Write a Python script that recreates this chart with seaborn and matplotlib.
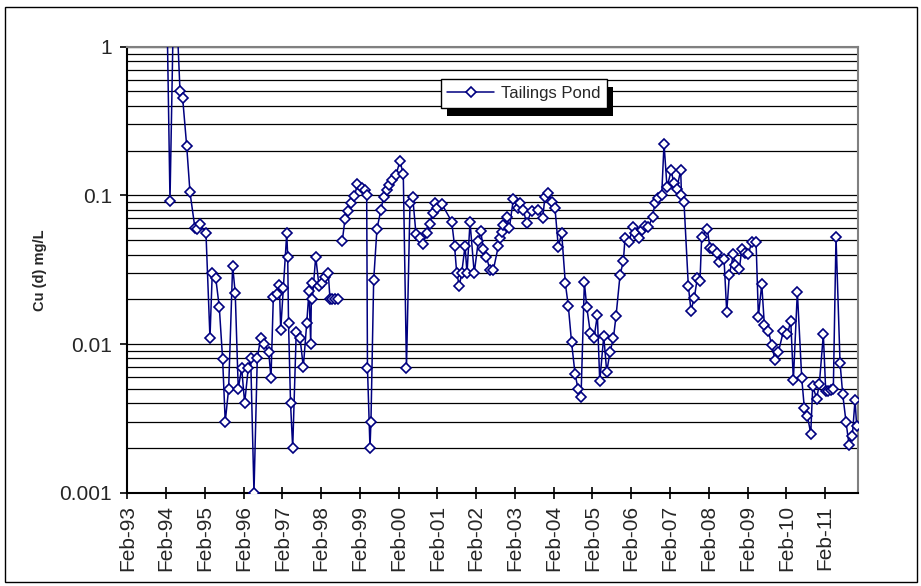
import numpy as np
import pandas as pd
import matplotlib
matplotlib.use("Agg")
import matplotlib.pyplot as plt
import matplotlib.dates as mdates
from matplotlib.patches import Rectangle
from matplotlib.lines import Line2D
from matplotlib.ticker import FixedLocator, FixedFormatter, NullFormatter, LogLocator
import seaborn as sns

# ---- data (decimal year, dissolved Cu mg/L); NaN marks a break in the line ----
years = [
    1994.10, 1994.187, 1994.30, 1994.445, 1994.514, 1994.618, 1994.703, 1994.832, 1994.876, 1994.961,
    1995.116, 1995.219, 1995.278, 1995.366, 1995.459, 1995.546, 1995.613, 1995.701, 1995.804, 1995.871,
    1995.949, 1996.037, 1996.114, 1996.207, 1996.269, 1996.354, 1996.439, 1996.527, 1996.612, 1996.733,
    1996.792, 1996.852, 1996.940, 1997.007, 1997.043, 1997.110, 1997.198, 1997.223, 1997.244, 1997.296,
    1997.352, 1997.443, 1997.541, 1997.626, 1997.714, 1997.773, 1997.817, 1997.838, 1997.858, 1997.946,
    1998.031, 1998.116, 1998.186, 1998.271, 1998.315, 1998.374, 1998.444, 1998.529, 1998.580,
    1998.632, 1998.702, 1998.779, 1998.864, 1998.947, 1999.024, 1999.140, 1999.218, 1999.262, 1999.282,
    1999.347, 1999.372, 1999.442, 1999.527, 1999.630, 1999.700, 1999.777, 1999.850, 1999.927, 2000.017,
    2000.121, 2000.206, 2000.288, 2000.379, 2000.448, 2000.533, 2000.624, 2000.714, 2000.809, 2000.882,
    2000.959, 2001.024, 2001.083, 2001.204, 2001.454, 2001.527, 2001.583, 2001.651, 2001.712, 2001.798,
    2001.849, 2001.927, 2002.035, 2002.141, 2002.203, 2002.270, 2002.347, 2002.443, 2002.528, 2002.657,
    2002.701, 2002.744, 2002.786, 2002.873, 2002.941, 2003.044, 2003.173, 2003.217, 2003.302, 2003.389,
    2003.518, 2003.689, 2003.802, 2003.862, 2003.947, 2004.034, 2004.120, 2004.205, 2004.292, 2004.386,
    2004.463, 2004.546, 2004.636, 2004.713, 2004.790, 2004.876, 2004.937, 2005.031, 2005.126, 2005.211,
    2005.273, 2005.376, 2005.453, 2005.539, 2005.624, 2005.694, 2005.797, 2005.882, 2005.926, 2006.035,
    2006.124, 2006.184, 2006.280, 2006.364, 2006.442, 2006.527, 2006.635, 2006.700, 2006.777, 2006.872,
    2006.932, 2007.009, 2007.120, 2007.182, 2007.259, 2007.362, 2007.383, 2007.447, 2007.559, 2007.628,
    2007.714, 2007.791, 2007.861, 2007.904, 2008.049, 2008.119, 2008.204, 2008.291, 2008.359, 2008.480,
    2008.549, 2008.617, 2008.720, 2008.764, 2008.874, 2008.936, 2009.022, 2009.107, 2009.194, 2009.305,
    2009.365, 2009.452, 2009.520, 2009.623, 2009.710, 2009.796, 2009.881, 2010.010, 2010.113, 2010.201,
    2010.268, 2010.371, 2010.484, 2010.552, 2010.629, 2010.717, 2010.768, 2010.871, 2010.939, 2011.042,
    2011.104, 2011.171, 2011.233, 2011.300, 2011.369, 2011.473, 2011.542, 2011.627, 2011.705, 2011.790,
    2011.860, 2011.903,
]
cu = [
    2.5, 0.092, 4.0, 0.506, 0.45, 0.215, 0.105, 0.060, 0.059, 0.064,
    0.0556, 0.011, 0.030, 0.028, 0.0178, 0.0079, 0.0030, 0.0050, 0.0337, 0.022,
    0.0050, 0.0069, 0.0040, 0.0069, 0.0081, 0.0010, 0.0080, 0.0110, 0.0100, 0.0089,
    0.0059, 0.0206, 0.0217, 0.025, 0.0125, 0.0237, 0.0556, 0.0387, 0.0139, 0.0040,
    0.0020, 0.0120, 0.0110, 0.0070, 0.0138, 0.0229, 0.0100, 0.0256, 0.0200, 0.0387,
    0.0246, 0.0256, 0.0284, 0.0299, 0.020, 0.020, 0.020, 0.020, np.nan,
    0.0493, 0.0694, 0.0789, 0.0885, 0.0995, 0.119, 0.112, 0.108, 0.100, 0.0069,
    0.0020, 0.0030, 0.0268, 0.0595, 0.0797, 0.098, 0.1087, 0.117, 0.127, 0.137,
    0.170, 0.139, 0.0069, 0.089, 0.098, 0.055, 0.052, 0.047, 0.056, 0.064,
    0.076, 0.089, 0.082, 0.087, 0.0666, 0.0458, 0.030, 0.0246, 0.030, 0.0458,
    0.030, 0.066, 0.030, 0.0493, 0.0577, 0.0436, 0.0387, 0.0315, 0.0315, 0.0454,
    0.0515, 0.0571, 0.0632, 0.0719, 0.060, 0.094, 0.082, 0.0885, 0.0797, 0.0651,
    0.0789, 0.0797, 0.070, 0.098, 0.104, 0.0909, 0.082, 0.045, 0.0556, 0.0256,
    0.018, 0.0103, 0.0063, 0.0050, 0.0044, 0.026, 0.0178, 0.0118, 0.0110, 0.0157,
    0.0056, 0.0113, 0.0065, 0.0089, 0.0109, 0.0155, 0.0292, 0.036, 0.052, 0.0489,
    0.061, 0.0556, 0.052, 0.0585, 0.062, 0.061, 0.0718, 0.0885, 0.0957, 0.100,
    0.223, 0.114, 0.147, 0.121, 0.110, 0.148, 0.100, 0.0907, 0.0247, 0.0168,
    0.0205, 0.0277, 0.0267, 0.0528, 0.0594, 0.0441, 0.0435, 0.0408, 0.0355, 0.0374,
    0.0164, 0.0292, 0.0401, 0.034, 0.032, 0.0434, 0.0408, 0.0401, 0.0489, 0.0489,
    0.0153, 0.0253, 0.0134, 0.0122, 0.0098, 0.0078, 0.0088, 0.0122, 0.0116, 0.0143,
    0.0057, 0.0225, 0.0059, 0.0037, 0.0033, 0.0025, 0.0052, 0.0043, 0.0054, 0.0116,
    0.0048, 0.0048, 0.0049, 0.0050, 0.0528, 0.0075, 0.0046, 0.0030, 0.0021, 0.0024,
    0.0042, 0.0028,
]
tick_years = list(range(1993, 2012))
series_name = "Tailings Pond"
y_label = "Cu (d) mg/L"
y_ticks = [0.001, 0.01, 0.1, 1]
y_tick_labels = ["0.001", "0.01", "0.1", "1"]


def dec_to_date(y):
    yr = int(np.floor(y))
    start = pd.Timestamp(yr, 1, 1)
    end = pd.Timestamp(yr + 1, 1, 1)
    return start + (end - start) * (y - yr)


df = pd.DataFrame({"year": years, "cu": cu})
df["seg"] = df["cu"].isna().cumsum()
df = df.dropna().reset_index(drop=True)
df["date"] = [dec_to_date(v) for v in df["year"]]

sns.set_theme(style="white")
plt.rcParams["font.family"] = ["Liberation Sans", "DejaVu Sans"]

W, H = 921, 586
fig = plt.figure(figsize=(W / 100, H / 100), dpi=100)
fig.patch.set_facecolor("white")
ax = fig.add_axes([127.3 / W, 1 - 492.7 / H, (857.7 - 127.3) / W, (492.7 - 46.7) / H])
ax.set_facecolor("white")

navy = "#000080"
sns.lineplot(data=df, x="date", y="cu", units="seg", estimator=None, ax=ax,
             color=navy, linewidth=1.1, marker="D", markersize=5.2,
             markerfacecolor="white", markeredgecolor=navy, markeredgewidth=1.2,
             sort=False, legend=False, zorder=3)

ax.set_yscale("log")
ax.set_ylim(0.001, 1)
ax.set_xlim(pd.Timestamp(1993, 2, 1), dec_to_date(2011.929))

# y axis
ax.yaxis.set_major_locator(FixedLocator(y_ticks))
ax.yaxis.set_major_formatter(FixedFormatter(y_tick_labels))
ax.yaxis.set_minor_locator(LogLocator(base=10, subs=np.arange(2, 10)))
ax.yaxis.set_minor_formatter(NullFormatter())
ax.grid(True, which="both", axis="y", color="black", linewidth=0.9, zorder=1)
ax.grid(False, axis="x")
ax.set_axisbelow(True)
ax.tick_params(axis="y", which="major", direction="out", length=5, width=1.2,
               color="black", labelsize=15, pad=6, left=True)
ax.tick_params(axis="y", which="minor", length=0)

# x axis
xt = [pd.Timestamp(y, 2, 1) for y in tick_years]
ax.set_xticks(xt)
ax.xaxis.set_major_formatter(mdates.DateFormatter("%b-%y"))
ax.tick_params(axis="x", which="major", direction="inout", length=8, width=1.2,
               color="black", labelsize=15, labelrotation=90, pad=5, bottom=True)
ax.tick_params(axis="x", which="minor", length=0)

ax.set_xlabel("")
ax.set_ylabel(y_label, fontsize=10.5, fontweight="bold", labelpad=9)

for s in ["left", "bottom"]:
    ax.spines[s].set_color("black")
    ax.spines[s].set_linewidth(1.5)
for s in ["top", "right"]:
    ax.spines[s].set_color("#808080")
    ax.spines[s].set_linewidth(1.5)

# legend with hard black shadow
handle = Line2D([], [], color=navy, linewidth=1.1, marker="D", markersize=5.2,
                markerfacecolor="white", markeredgecolor=navy, markeredgewidth=1.2)
leg = ax.legend([handle], [series_name], loc="upper left",
                bbox_to_anchor=(440.7 / W, 1 - 79.3 / H), bbox_transform=fig.transFigure,
                frameon=True, fancybox=False, shadow=False, fontsize=12, framealpha=1.0,
                handlelength=2.8, handletextpad=0.4, borderpad=0.4, borderaxespad=0)
leg.get_frame().set_edgecolor("black")
leg.get_frame().set_linewidth(1.0)
leg.get_frame().set_facecolor("white")
leg.set_zorder(10)
fig.canvas.draw()
bb = leg.get_window_extent()
shadow = Rectangle((bb.x0 + 6, bb.y0 - 8), bb.width, bb.height, transform=None,
                   facecolor="black", edgecolor="none", zorder=9)
ax.add_artist(shadow)
shadow.set_clip_on(False)

# chart-area border
fig.add_artist(Rectangle((5 / W, 4 / H), 912 / W, 575 / H, transform=fig.transFigure,
                         fill=False, edgecolor="black", linewidth=1.0, zorder=20))

fig.savefig("out.png", dpi=100)
